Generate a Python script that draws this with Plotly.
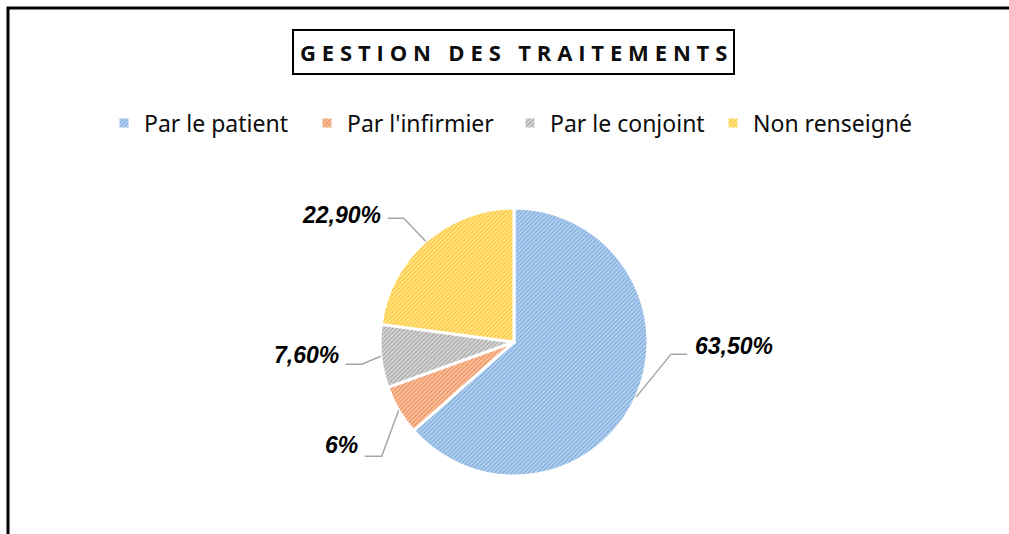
import plotly.graph_objects as go
import numpy as np

title = 'GESTION DES TRAITEMENTS'
labels = ['Par le patient', "Par l'infirmier", 'Par le conjoint', 'Non renseigné']
values = [63.5, 6, 7.6, 22.9]
value_text = ['63,50%', '6%', '7,60%', '22,90%']

W, H = 1009, 534

# slice colours: background / hatch foreground
bg_colors = ['rgb(186,212,240)', 'rgb(250,200,168)', 'rgb(220,220,220)', 'rgb(255,232,150)']
fg_colors = ['rgb(132,176,224)', 'rgb(240,150,98)', 'rgb(172,172,172)', 'rgb(254,200,60)']

# pie placement in pixels
cx, cy, r = 514, 342, 134

# label layout: elbow offset from slice edge, arm length, text gap above arm
elbow = [(35, -43), (-17, 46), (-19, 8), (-22, -23)]
arm = [16, -17, -16, -16]
text_lift = [8, 11, 9, 3]

fig = go.Figure()
fig.add_trace(go.Pie(
    labels=labels,
    values=values,
    sort=False,
    direction='clockwise',
    rotation=0,
    textinfo='none',
    hoverinfo='label+percent',
    domain=dict(x=[(cx - r) / W, (cx + r) / W], y=[1 - (cy + r) / H, 1 - (cy - r) / H]),
    marker=dict(
        colors=bg_colors,
        line=dict(color='white', width=3),
        pattern=dict(shape='/', fgcolor=fg_colors, bgcolor=bg_colors,
                     size=3, solidity=0.5, fillmode='replace'),
    ),
))

def px(x):
    return x / W

def py(y):
    return 1 - y / H

shapes = []
annotations = []
total = sum(values)
cum = np.cumsum(values)
for i, v in enumerate(values):
    ang = (cum[i] - v / 2) / total * 2 * np.pi
    ex = cx + r * np.sin(ang)
    ey = cy - r * np.cos(ang)
    bx, by = ex + elbow[i][0], ey + elbow[i][1]
    ax = bx + arm[i]
    shapes.append(dict(
        type='path', xref='paper', yref='paper',
        path='M {} {} L {} {} L {} {}'.format(px(ex), py(ey), px(bx), py(by), px(ax), py(by)),
        line=dict(color='rgb(166,166,166)', width=1.5),
    ))
    right = arm[i] > 0
    annotations.append(dict(
        xref='paper', yref='paper',
        x=px(ax + (6 if right else -5)), y=py(by - text_lift[i]),
        xanchor='left' if right else 'right', yanchor='middle',
        text='<b><i>{}</i></b>'.format(value_text[i]),
        font=dict(family='Liberation Sans, Arial', size=23, color='black'),
        showarrow=False,
    ))

# title in a box, letter-spaced
sp = '\u2009\u200a'
title_txt = ' '.join(sp.join(w) for w in title.split(' ')).replace(' ', sp + ' ' + sp)
annotations.append(dict(
    xref='paper', yref='paper', x=px(513.5), y=py(52.5),
    xanchor='center', yanchor='middle',
    text='<b>' + title_txt + '</b>',
    font=dict(family='Open Sans', size=22, color='rgb(13,13,13)'),
    bordercolor='black', borderwidth=2, borderpad=6,
    showarrow=False,
))

# outer frame
shapes.append(dict(type='rect', xref='paper', yref='paper',
                   x0=px(8), y0=-0.05, x1=1.05, y1=py(8),
                   line=dict(color='black', width=3)))

fig.update_layout(
    width=W, height=H,
    margin=dict(l=0, r=0, t=0, b=0),
    paper_bgcolor='white',
    plot_bgcolor='white',
    showlegend=True,
    legend=dict(
        orientation='h', x=px(104), xanchor='left', y=py(123), yanchor='middle',
        font=dict(family='Noto Sans', size=23, color='rgb(13,13,13)'),
        entrywidth=158, entrywidthmode='pixels',
    ),
    shapes=shapes,
    annotations=annotations,
)

fig.write_html('out.html', config={'displayModeBar': False},
               post_script="document.body.style.margin='0';")
